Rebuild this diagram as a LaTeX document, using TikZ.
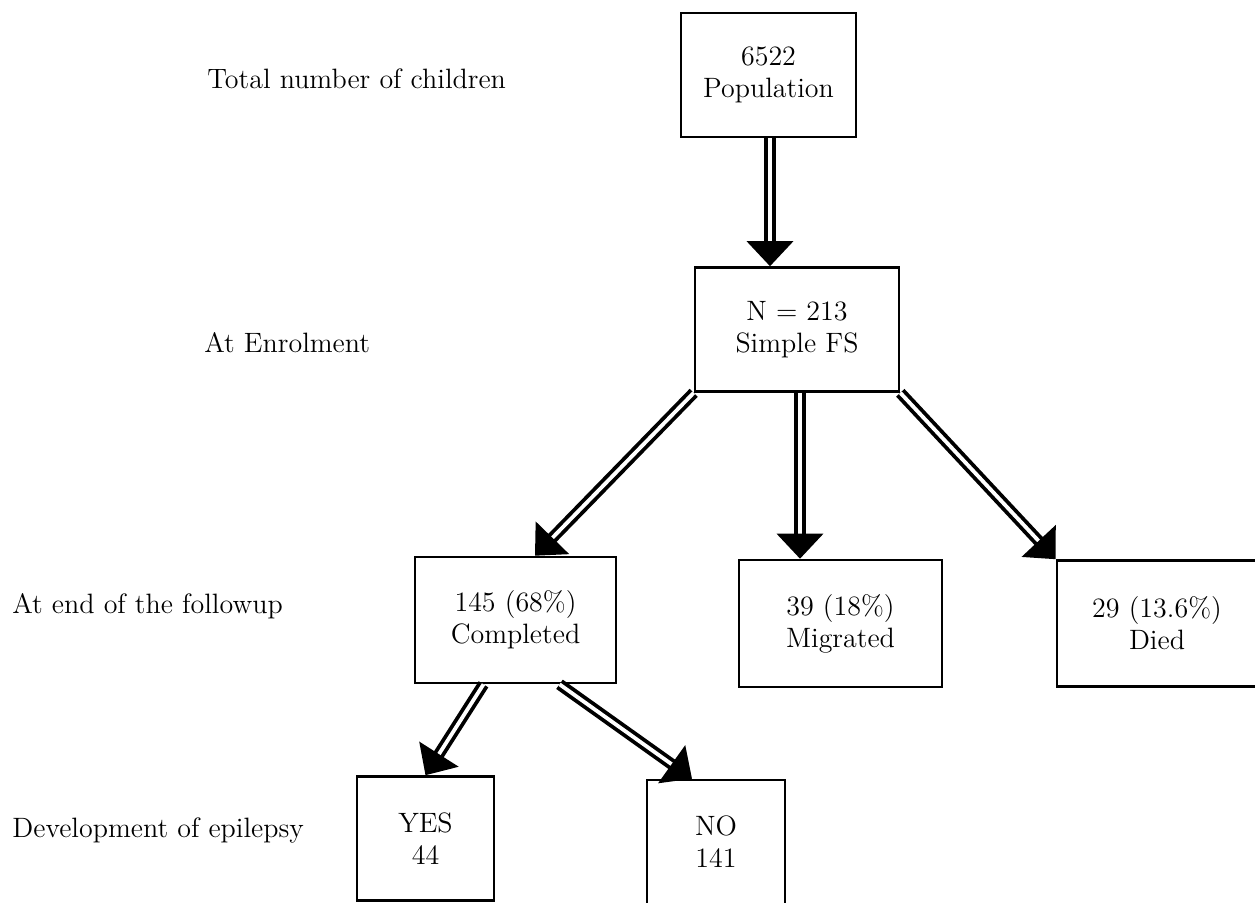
\documentclass[tikz,border=0pt]{standalone}
\usepackage{tikz}
\usetikzlibrary{arrows.meta}
\tikzset{
  box/.style={draw,line width=1.3pt,align=center,minimum height=62pt,inner sep=0pt},
  flow/.style={double,double distance=1.9pt,line width=1.9pt,-{Triangle[length=12.5pt,width=23pt]}},
  lab/.style={anchor=base west,inner sep=0pt}
}

\begin{document}
\begin{tikzpicture}[x=0.5pt,y=-0.5pt,font=\fontsize{14}{16}\selectfont]
  \useasboundingbox (0,0) rectangle (1255,902);
% stages
\node[lab] (lpop) at (207,88) {Total number of children};
\node[lab] (lenr) at (204,352) {At Enrolment};
\node[lab] (lend) at (12,613) {At end of the followup};
\node[lab] (ldev) at (12,837) {Development of epilepsy};
% boxes
\node[box,minimum width=87.5pt] (pop) at (768.5,75) {6522\\Population};
\node[box,minimum width=102pt] (fs) at (797,329.5) {N = 213\\Simple FS};
\node[box,minimum width=100.5pt,minimum height=63pt] (comp) at (515.5,620) {145 (68\%)\\Completed};
\node[box,minimum width=101.5pt,minimum height=63.5pt] (mig) at (840.5,623.5) {39 (18\%)\\Migrated};
\node[box,minimum width=100pt,minimum height=63pt] (died) at (1157,623.5) {29 (13.6\%)\\Died};
\node[box,minimum width=68.5pt] (yes) at (425.5,838.5) {YES\\44};
\node[box,minimum width=69pt] (no) at (716,842) {NO\\141};
% arrows
\draw[flow] ([xshift=0.75pt]pop.south) -- ([xshift=0.75pt]pop.south |- fs.north);
\draw[flow] (fs.south west) -- ([xshift=9.75pt]comp.north);
\draw[flow] ([xshift=1.5pt]fs.south) -- ([xshift=1.5pt]fs.south |- mig.north);
\draw[flow] (fs.south east) -- (died.north west);
\draw[flow] ([xshift=-16pt]comp.south) -- (yes.north);
\draw[flow] ([xshift=22pt]comp.south) -- ([xshift=-12pt]no.north);
\end{tikzpicture}
\end{document}
